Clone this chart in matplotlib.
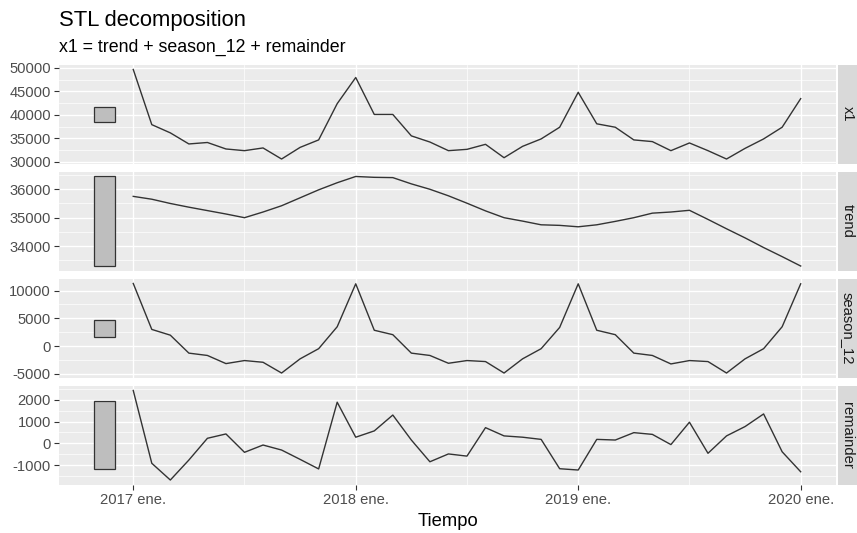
import matplotlib
matplotlib.use("Agg")
import matplotlib.pyplot as plt
from matplotlib.patches import Rectangle
from matplotlib.ticker import FixedLocator, FuncFormatter

plt.rcParams['font.family'] = ['Liberation Sans', 'DejaVu Sans']

# Monthly index: 0 = 2017 ene. ... 36 = 2020 ene.
months = list(range(37))
year_ticks = [0, 12, 24, 36]
year_labels = ["2017 ene.", "2018 ene.", "2019 ene.", "2020 ene."]

x1 = [49650, 37900, 36150, 33790, 34100, 32720, 32360, 32940, 30580, 33060,
      34650, 42370, 47940, 40070, 40070, 35510, 34200, 32360, 32640, 33710,
      30860, 33280, 34860, 37350, 44790, 38080, 37350, 34650, 34290, 32360,
      34000, 32360, 30580, 32850, 34860, 37350, 43440]

trend = [35750, 35650, 35500, 35370, 35250, 35130, 35000, 35200, 35420, 35700,
         35980, 36230, 36450, 36420, 36410, 36190, 36000, 35770, 35510, 35240,
         35000, 34880, 34750, 34730, 34680, 34750, 34870, 35000, 35160, 35200,
         35260, 34940, 34610, 34290, 33950, 33630, 33300]

season_12 = [11290, 3000, 1960, -1280, -1700, -3170, -2620, -2930, -4870, -2310,
             -480, 3480, 11230, 2850, 2050, -1280, -1700, -3110, -2620, -2800,
             -4870, -2310, -480, 3360, 11230, 2850, 2050, -1280, -1700, -3230,
             -2620, -2800, -4870, -2310, -480, 3480, 11230]

remainder = [2430, -920, -1690, -770, 230, 430, -415, -80, -310, -740,
             -1180, 1890, 280, 570, 1300, 150, -850, -490, -590, 720,
             340, 280, 180, -1170, -1230, 180, 150, 490, 410, -60,
             970, -460, 340, 770, 1350, -390, -1310]

components = ["x1", "trend", "season_12", "remainder"]
series = [x1, trend, season_12, remainder]
y_major = [
    [30000, 35000, 40000, 45000, 50000],
    [34000, 35000, 36000],
    [-5000, 0, 5000, 10000],
    [-1000, 0, 1000, 2000],
]

W, H = 857, 533
fig = plt.figure(figsize=(W / 100, H / 100), dpi=100)
fig.patch.set_facecolor("white")


def frect(x0, y0, x1_, y1_):
    return [x0 / W, 1 - y1_ / H, (x1_ - x0) / W, (y1_ - y0) / H]


panel_left, panel_right = 59, 836
strip_left, strip_right = 838, 857
panel_top = [65, 172, 279, 386]
panel_h = 98.5

# range bars: same length in every panel (smallest component range)
bar_len = min(max(s) - min(s) for s in series)
bar_x0, bar_x1 = -2.1, -1.0

x_lo, x_hi = bar_x0, months[-1]
x_pad = 0.05 * (x_hi - x_lo)
xlim = (x_lo - x_pad, x_hi + x_pad)

bg = "#EBEBEB"
line_col = "#333333"
tick_col = "#4D4D4D"

for k, (name, vals, majors) in enumerate(zip(components, series, y_major)):
    top = panel_top[k]
    ax = fig.add_axes(frect(panel_left, top, panel_right, top + panel_h))
    ax.set_facecolor(bg)
    for sp in ax.spines.values():
        sp.set_visible(False)

    ax.plot(months, vals, color=line_col, lw=1.0, zorder=3)

    mid = (max(vals) + min(vals)) / 2
    ax.add_patch(Rectangle((bar_x0, mid - bar_len / 2), bar_x1 - bar_x0, bar_len,
                           facecolor="#BEBEBE", edgecolor="#333333", lw=0.9, zorder=3))

    lo, hi = min(vals), max(vals)
    pad = 0.05 * (hi - lo)
    ax.set_ylim(lo - pad, hi + pad)
    ax.set_xlim(*xlim)

    step = majors[1] - majors[0]
    minors = [m + step / 2 for m in [majors[0] - step] + majors]
    ax.yaxis.set_major_locator(FixedLocator(majors))
    ax.yaxis.set_minor_locator(FixedLocator(minors))
    ax.yaxis.set_major_formatter(FuncFormatter(lambda v, p: f"{int(v)}"))
    ax.xaxis.set_major_locator(FixedLocator(year_ticks))
    ax.xaxis.set_minor_locator(FixedLocator([6, 18, 30]))

    ax.grid(which="major", color="white", lw=1.0, zorder=0)
    ax.grid(which="minor", color="white", lw=0.5, zorder=0)
    ax.set_axisbelow(True)

    ax.tick_params(axis="y", which="major", length=3.3, width=0.8, color="#333333",
                   labelsize=10.6, labelcolor=tick_col, pad=2.5)
    ax.tick_params(axis="both", which="minor", length=0)
    if k == 3:
        ax.set_xticklabels(year_labels)
        ax.tick_params(axis="x", which="major", length=3.3, width=0.8, color="#333333",
                       labelsize=10.6, labelcolor=tick_col, pad=3)
    else:
        ax.tick_params(axis="x", which="major", length=0, labelbottom=False)

    sax = fig.add_axes(frect(strip_left, top, strip_right, top + panel_h))
    sax.set_facecolor("#D9D9D9")
    sax.set_xticks([])
    sax.set_yticks([])
    for sp in sax.spines.values():
        sp.set_visible(False)
    sax.text(0.5, 0.5, name, rotation=270, ha="center", va="center",
             fontsize=10.6, color="#1A1A1A", transform=sax.transAxes)

fig.text(panel_left / W, 1 - 26 / H, "STL decomposition", fontsize=15.8,
         color="black", ha="left", va="baseline")
fig.text(panel_left / W, 1 - 52 / H, "x1 = trend + season_12 + remainder",
         fontsize=12.8, color="black", ha="left", va="baseline")
fig.text((panel_left + panel_right) / 2 / W, 1 - 521 / H, "Tiempo", fontsize=13.2,
         color="black", ha="center", va="center")

fig.savefig("out.png", dpi=100, facecolor="white")
